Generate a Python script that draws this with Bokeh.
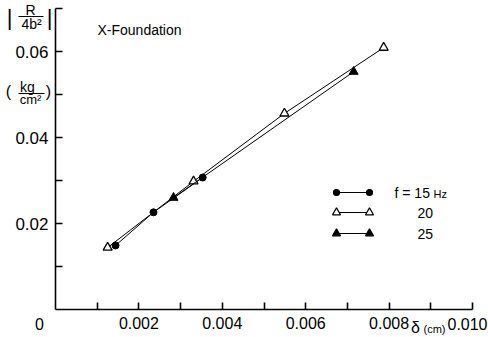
from bokeh.plotting import figure
from bokeh.models import FixedTicker, Label, Range1d
from bokeh.embed import file_html
from bokeh.resources import INLINE

# ---- data ----
f15_x = [0.00144, 0.00235, 0.00353]
f15_y = [0.0149, 0.0226, 0.0307]
f20_x = [0.00125, 0.00331, 0.00549, 0.00787]
f20_y = [0.0144, 0.0298, 0.0456, 0.0609]
f25_x = [0.00283, 0.00715]
f25_y = [0.0260, 0.0553]

x_ticks = [0.001, 0.002, 0.003, 0.004, 0.005, 0.006, 0.007, 0.008, 0.009, 0.01]
x_tick_labels = ["", "0.002", "", "0.004", "", "0.006", "", "0.008", "", ""]
y_ticks = [0.01, 0.02, 0.03, 0.04, 0.05, 0.06, 0.07]
y_tick_labels = ["", "0.02", "", "0.04", "", "0.06", ""]

FONT = "Liberation Sans"
W, H = 488, 337

# page pixel -> data coordinates (layout helper for decorations)
def dx(px):
    return (px - 55) / 41700.0

def dy(py):
    return (309 - py) / 4300.0

p = figure(width=W, height=H, output_backend="svg", toolbar_location=None,
           x_range=Range1d(dx(0), dx(W)), y_range=Range1d(dy(H), dy(0)),
           min_border=0)
p.frame_width = W
p.frame_height = H
p.outline_line_color = None
p.grid.visible = False
p.background_fill_color = "white"
p.border_fill_color = "white"

for ax in (p.xaxis[0], p.yaxis[0]):
    ax.fixed_location = 0
    ax.axis_line_width = 1.6
    ax.axis_line_color = "black"
    ax.major_tick_in = 7
    ax.major_tick_out = 0
    ax.major_tick_line_width = 1.6
    ax.minor_tick_line_color = None
    ax.major_label_text_font = FONT
    ax.major_label_text_color = "black"
    ax.major_label_standoff = 7

p.xaxis.bounds = (0, 0.010)
p.yaxis.bounds = (0, 0.070)
p.xaxis.ticker = FixedTicker(ticks=x_ticks)
p.xaxis.major_label_overrides = {t: l for t, l in zip(x_ticks, x_tick_labels)}
p.xaxis.major_label_text_font_size = "16px"
p.yaxis.ticker = FixedTicker(ticks=y_ticks)
p.yaxis.major_label_overrides = {t: l for t, l in zip(y_ticks, y_tick_labels)}
p.yaxis.major_label_text_font_size = "17px"

# ---- series ----
p.line(f15_x, f15_y, line_color="black", line_width=1)
p.scatter(f15_x, f15_y, marker="circle", size=7, fill_color="black", line_color="black")
p.line(f20_x, f20_y, line_color="black", line_width=1)
p.scatter(f20_x, f20_y, marker="triangle", size=9, fill_color="white", line_color="black", line_width=1.3)
p.line(f25_x, f25_y, line_color="black", line_width=1)
p.scatter(f25_x, f25_y, marker="triangle", size=9, fill_color="black", line_color="black")

def txt(s, px, py, size, align="center", baseline="middle"):
    p.add_layout(Label(x=dx(px), y=dy(py), text=s, text_font=FONT, text_font_size=size,
                       text_align=align, text_baseline=baseline, text_color="black"))

# origin and last x label
txt("0", 39, 323, "16px")
txt("0.010", 467, 323, "16px")
# x axis title δ (cm)
txt("δ", 415, 327, "16px")
txt("(cm)", 434, 328, "11px")

# y axis title |R / 4b²|
txt("|", 9, 17, "22px")
txt("R", 30, 9, "14px")
txt("4b²", 31, 23, "14px")
txt("|", 49, 17, "22px")
p.segment(x0=[dx(18)], y0=[dy(16)], x1=[dx(43)], y1=[dy(16)], line_color="black", line_width=1.2)
# (kg / cm²)
txt("(", 8, 91, "16px")
txt("kg", 27, 86, "14px")
txt("cm²", 30, 99, "13px")
txt(")", 48, 91, "16px")
p.segment(x0=[dx(18)], y0=[dy(93)], x1=[dx(44)], y1=[dy(93)], line_color="black", line_width=1.2)

# title
txt("X-Foundation", 97, 29, "14px", align="left")

# ---- legend (drawn by hand) ----
leg_rows = [192, 212, 233]
lx0, lx1 = 336, 369
styles = [("circle", 6, "black"), ("triangle", 8, "white"), ("triangle", 8, "black")]
for py, (mk, sz, fc) in zip(leg_rows, styles):
    p.segment(x0=[dx(lx0)], y0=[dy(py)], x1=[dx(lx1)], y1=[dy(py)], line_color="black", line_width=1)
    p.scatter([dx(lx0), dx(lx1)], [dy(py), dy(py)], marker=mk, size=sz, fill_color=fc,
              line_color="black", line_width=1.2)
txt("f = 15", 394, 192, "14px", align="left")
txt("Hz", 433, 193, "11px", align="left")
txt("20", 417, 212, "14px", align="left")
txt("25", 417, 233, "14px", align="left")

open("out.html", "w").write(file_html(p, INLINE))
